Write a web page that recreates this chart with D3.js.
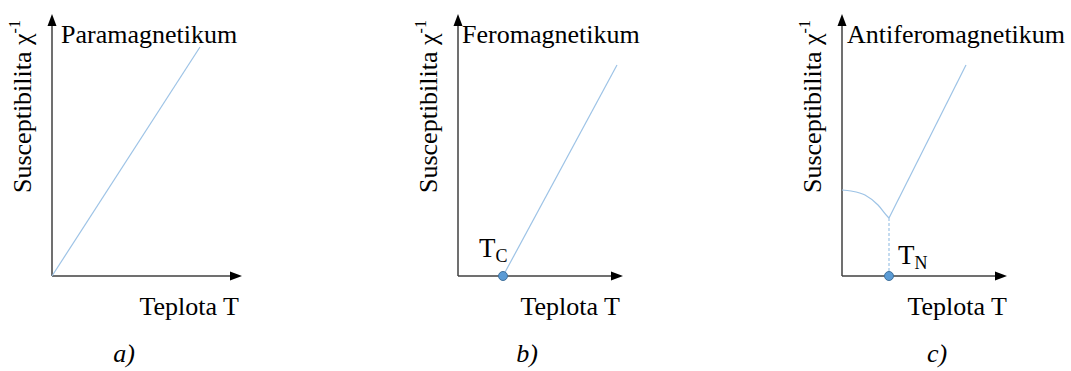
<!DOCTYPE html>
<html>
<head>
<meta charset="utf-8">
<script src="https://cdn.jsdelivr.net/npm/d3@7"></script>
<style>
  html, body { margin: 0; padding: 0; background: #fff; }
</style>
</head>
<body>
<svg id="chart" width="1071" height="371"></svg>
<script>
// Three schematic panels: inverse susceptibility vs. temperature
const panelIds = ["a", "b", "c"];
const panelTitles = ["Paramagnetikum", "Feromagnetikum", "Antiferomagnetikum"];
const yAxisTitle = "Susceptibilita \u03C7";
const yAxisSup = "-1";
const xAxisTitle = "Teplota T";

// axis extents (arbitrary units)
const tAxisMax = [19, 16.5, 16.5];
const chiAxisMax = 26.2;

// a) paramagnet: Curie law, straight line through origin
const paraT = [0, 14.8];
const paraChi = [0, 22.9];

// b) ferromagnet: Curie-Weiss line starting at T_C
const curieT = 4.5;
const feroT = [4.5, 15.9];
const feroChi = [0, 21.1];

// c) antiferromagnet: ordered branch below T_N, linear branch above
const neelT = 4.7;
const afOrderedT = [0, 0.9, 2.3, 3.6, 4.6, 4.7];
const afOrderedChi = [8.6, 8.5, 8.1, 7.1, 5.9, 5.8];
const afParaT = [4.7, 12.4];
const afParaChi = [5.8, 21.1];

const FONT = "'Liberation Serif', 'Times New Roman', serif";

const svg = d3.select("#chart").attr("font-family", FONT);
const lineColor = "#9dc3e6";
const axisColor = "#404040";

const originX = [52, 458, 842];
const originY = 276;
const topY = 14;

function panelScales(i) {
  const x = d3.scaleLinear().domain([0, tAxisMax[i]]).range([originX[i], originX[i] + tAxisMax[i] * 10]);
  const y = d3.scaleLinear().domain([0, chiAxisMax]).range([originY, topY]);
  return { x, y };
}

function drawAxes(g, x, y, i) {
  const x0 = x(0), y0 = y(0);
  const xEnd = x(tAxisMax[i]), yEnd = y(chiAxisMax);
  const head = 12, half = 4.5;
  g.append("line").attr("x1", x0).attr("y1", y0).attr("x2", xEnd - head + 1).attr("y2", y0)
    .attr("stroke", axisColor).attr("stroke-width", 1.5);
  g.append("line").attr("x1", x0).attr("y1", y0).attr("x2", x0).attr("y2", yEnd + head - 1)
    .attr("stroke", axisColor).attr("stroke-width", 1.5);
  g.append("path")
    .attr("d", `M${xEnd},${y0} L${xEnd - head},${y0 - half} L${xEnd - head},${y0 + half} Z`)
    .attr("fill", "#000");
  g.append("path")
    .attr("d", `M${x0},${yEnd} L${x0 - half},${yEnd + head} L${x0 + half},${yEnd + head} Z`)
    .attr("fill", "#000");
}

function txt(g) {
  return g.append("text").attr("font-family", FONT).attr("fill", "#000");
}

function drawLabels(g, x, y, i, titleDx, xTitleEnd, panelCx) {
  const x0 = x(0);
  txt(g).attr("x", x0 + titleDx).attr("y", 43)
    .attr("font-size", 26).text(panelTitles[i]);

  const yl = txt(g)
    .attr("transform", `translate(${x0 - 21},193) rotate(-90)`)
    .attr("font-size", 26);
  yl.append("tspan").text(yAxisTitle);
  yl.append("tspan").attr("font-size", 16).attr("dy", -11).text(yAxisSup);

  txt(g).attr("x", xTitleEnd).attr("y", 315)
    .attr("text-anchor", "end").attr("font-size", 26).text(xAxisTitle);

  txt(g).attr("x", panelCx).attr("y", 362)
    .attr("text-anchor", "middle").attr("font-size", 26).attr("font-style", "italic")
    .text(panelIds[i] + ")");
}

function drawLine(g, x, y, ts, chis, curve) {
  const pts = ts.map((t, k) => [t, chis[k]]);
  g.append("path")
    .attr("d", d3.line().x(d => x(d[0])).y(d => y(d[1])).curve(curve || d3.curveLinear)(pts))
    .attr("fill", "none").attr("stroke", lineColor).attr("stroke-width", 1.2);
}

function drawDot(g, x, y, t) {
  g.append("circle").attr("cx", x(t)).attr("cy", y(0)).attr("r", 4.5)
    .attr("fill", "#5b9bd5").attr("stroke", "#41719c").attr("stroke-width", 1);
}

function subLabel(g, px, py, main, sub) {
  const t = txt(g).attr("x", px).attr("y", py).attr("font-size", 27);
  t.append("tspan").text(main);
  t.append("tspan").attr("font-size", 18).attr("dy", 5).text(sub);
}

// Panel a
{
  const i = 0, { x, y } = panelScales(i);
  const g = svg.append("g");
  drawAxes(g, x, y, i);
  drawLine(g, x, y, paraT, paraChi);
  drawLabels(g, x, y, i, 9, 239, 124);
}

// Panel b
{
  const i = 1, { x, y } = panelScales(i);
  const g = svg.append("g");
  drawAxes(g, x, y, i);
  drawLine(g, x, y, feroT, feroChi);
  drawDot(g, x, y, curieT);
  subLabel(g, x(curieT) - 24, 257, "T", "C");
  drawLabels(g, x, y, i, 4, 620, 527);
}

// Panel c
{
  const i = 2, { x, y } = panelScales(i);
  const g = svg.append("g");
  drawAxes(g, x, y, i);
  drawLine(g, x, y, afOrderedT, afOrderedChi, d3.curveMonotoneX);
  drawLine(g, x, y, afParaT, afParaChi);
  g.append("line")
    .attr("x1", x(neelT)).attr("y1", y(afParaChi[0]))
    .attr("x2", x(neelT)).attr("y2", y(0))
    .attr("stroke", lineColor).attr("stroke-width", 1.2).attr("stroke-dasharray", "3,2");
  drawDot(g, x, y, neelT);
  subLabel(g, x(neelT) + 9, 264, "T", "N");
  drawLabels(g, x, y, i, 5, 1007, 937);
}
</script>
</body>
</html>
